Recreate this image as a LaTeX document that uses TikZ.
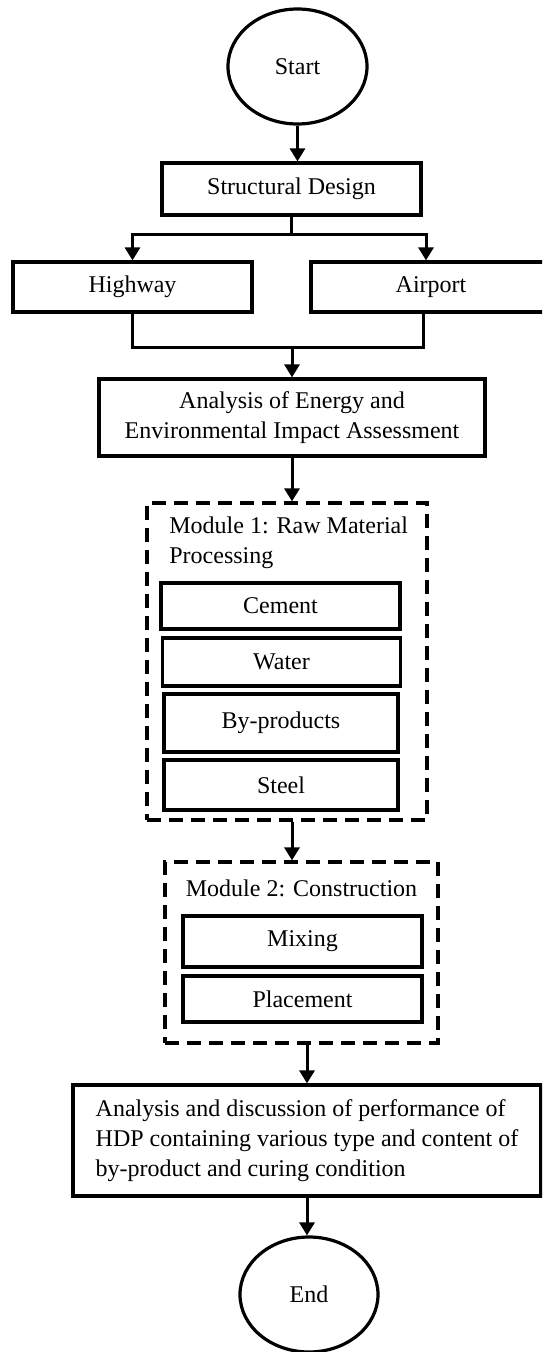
\documentclass[tikz,border=0pt]{standalone}
\usepackage{fontspec}
\setmainfont{Liberation Serif}
\usetikzlibrary{shapes.geometric,arrows.meta}

\tikzset{
  box/.style={draw, line width=1.6pt, inner sep=0pt, align=center, font=\fontsize{12}{15}\selectfont},
  oval/.style={draw, ellipse, line width=1.6pt, minimum width=69.5pt, minimum height=57.5pt, inner sep=0pt, font=\fontsize{12}{15}\selectfont},
  module/.style={draw, dash pattern=on 7pt off 4pt, line width=1.6pt, inner sep=0pt},
  modtitle/.style={inner sep=0pt, align=left, font=\fontsize{12}{15}\selectfont},
  arr/.style={line width=1.5pt, -{Triangle[length=6.5pt,width=7.5pt]}},
  link/.style={line width=1.5pt}
}

\begin{document}
\begin{tikzpicture}[x=0.5pt, y=-0.5pt]
\clip (0,0) rectangle (542,1352);

% Start and design
\node[oval] (start) at (297.5,66.5) {Start};
\node[box, minimum width=129.5pt, minimum height=26pt] (design) at (291.5,189) {Structural Design};
\node[box, minimum width=119.5pt, minimum height=25pt] (highway) at (132.5,287) {Highway};
\node[box, minimum width=120pt, minimum height=25pt] (airport) at (431,287) {Airport};
\node[box, minimum width=193pt, minimum height=38.5pt] (energy) at (292,417.5) {Analysis of Energy and\\Environmental Impact Assessment};

% Module 1
\node[module, minimum width=140pt, minimum height=158.5pt] (mod1) at (287,661.5) {};
\node[modtitle, anchor=west] (title1) at (169,543) {Module 1: Raw Material\\Processing};
\node[box, minimum width=119.5pt, minimum height=23pt] (cement) at (280.5,606) {Cement};
\node[box, minimum width=119pt, minimum height=24pt] (water) at (281.5,662) {Water};
\node[box, minimum width=117pt, minimum height=29pt] (byprod) at (281,723) {By-products};
\node[box, minimum width=117pt, minimum height=25pt] (steel) at (281,785) {Steel};

% Module 2
\node[module, minimum width=136.5pt, minimum height=90.5pt] (mod2) at (301.5,952.5) {};
\node[modtitle] (title2) at (301.5,888) {Module 2: Construction};
\node[box, minimum width=119.5pt, minimum height=25.5pt] (mixing) at (302.5,941.5) {Mixing};
\node[box, minimum width=119.5pt, minimum height=23pt] (placement) at (302.5,999) {Placement};

% Results and end
\node[box, minimum width=234pt, minimum height=55.5pt, align=left] (final) at (307,1140.5) {Analysis and discussion of performance of\\HDP containing various type and content of\\by-product and curing condition};
\node[oval, minimum width=69pt] (stop) at (309,1294.5) {End};

% Connectors
\coordinate (split) at (291.5,235);
\coordinate (join) at (292,348);
\draw[arr] (start.south) -- (start.south |- design.north);
\draw[link] (design.south) -- (split);
\draw[arr] (split) -| (highway.north);
\draw[arr] (split) -| ([xshift=-2.5pt]airport.north);
\draw[link] (highway.south) |- (join) -| ([xshift=-4pt]airport.south);
\draw[arr] (join) -- (energy.north);
\draw[arr] (energy.south) -- (energy.south |- mod1.north);
\draw[arr] (mod1.south -| energy.south) -- (mod2.north -| energy.south);
\draw[arr] (final.north |- mod2.south) -- (final.north);
\draw[arr] (final.south) -- (final.south |- stop.north);
\end{tikzpicture}
\end{document}
